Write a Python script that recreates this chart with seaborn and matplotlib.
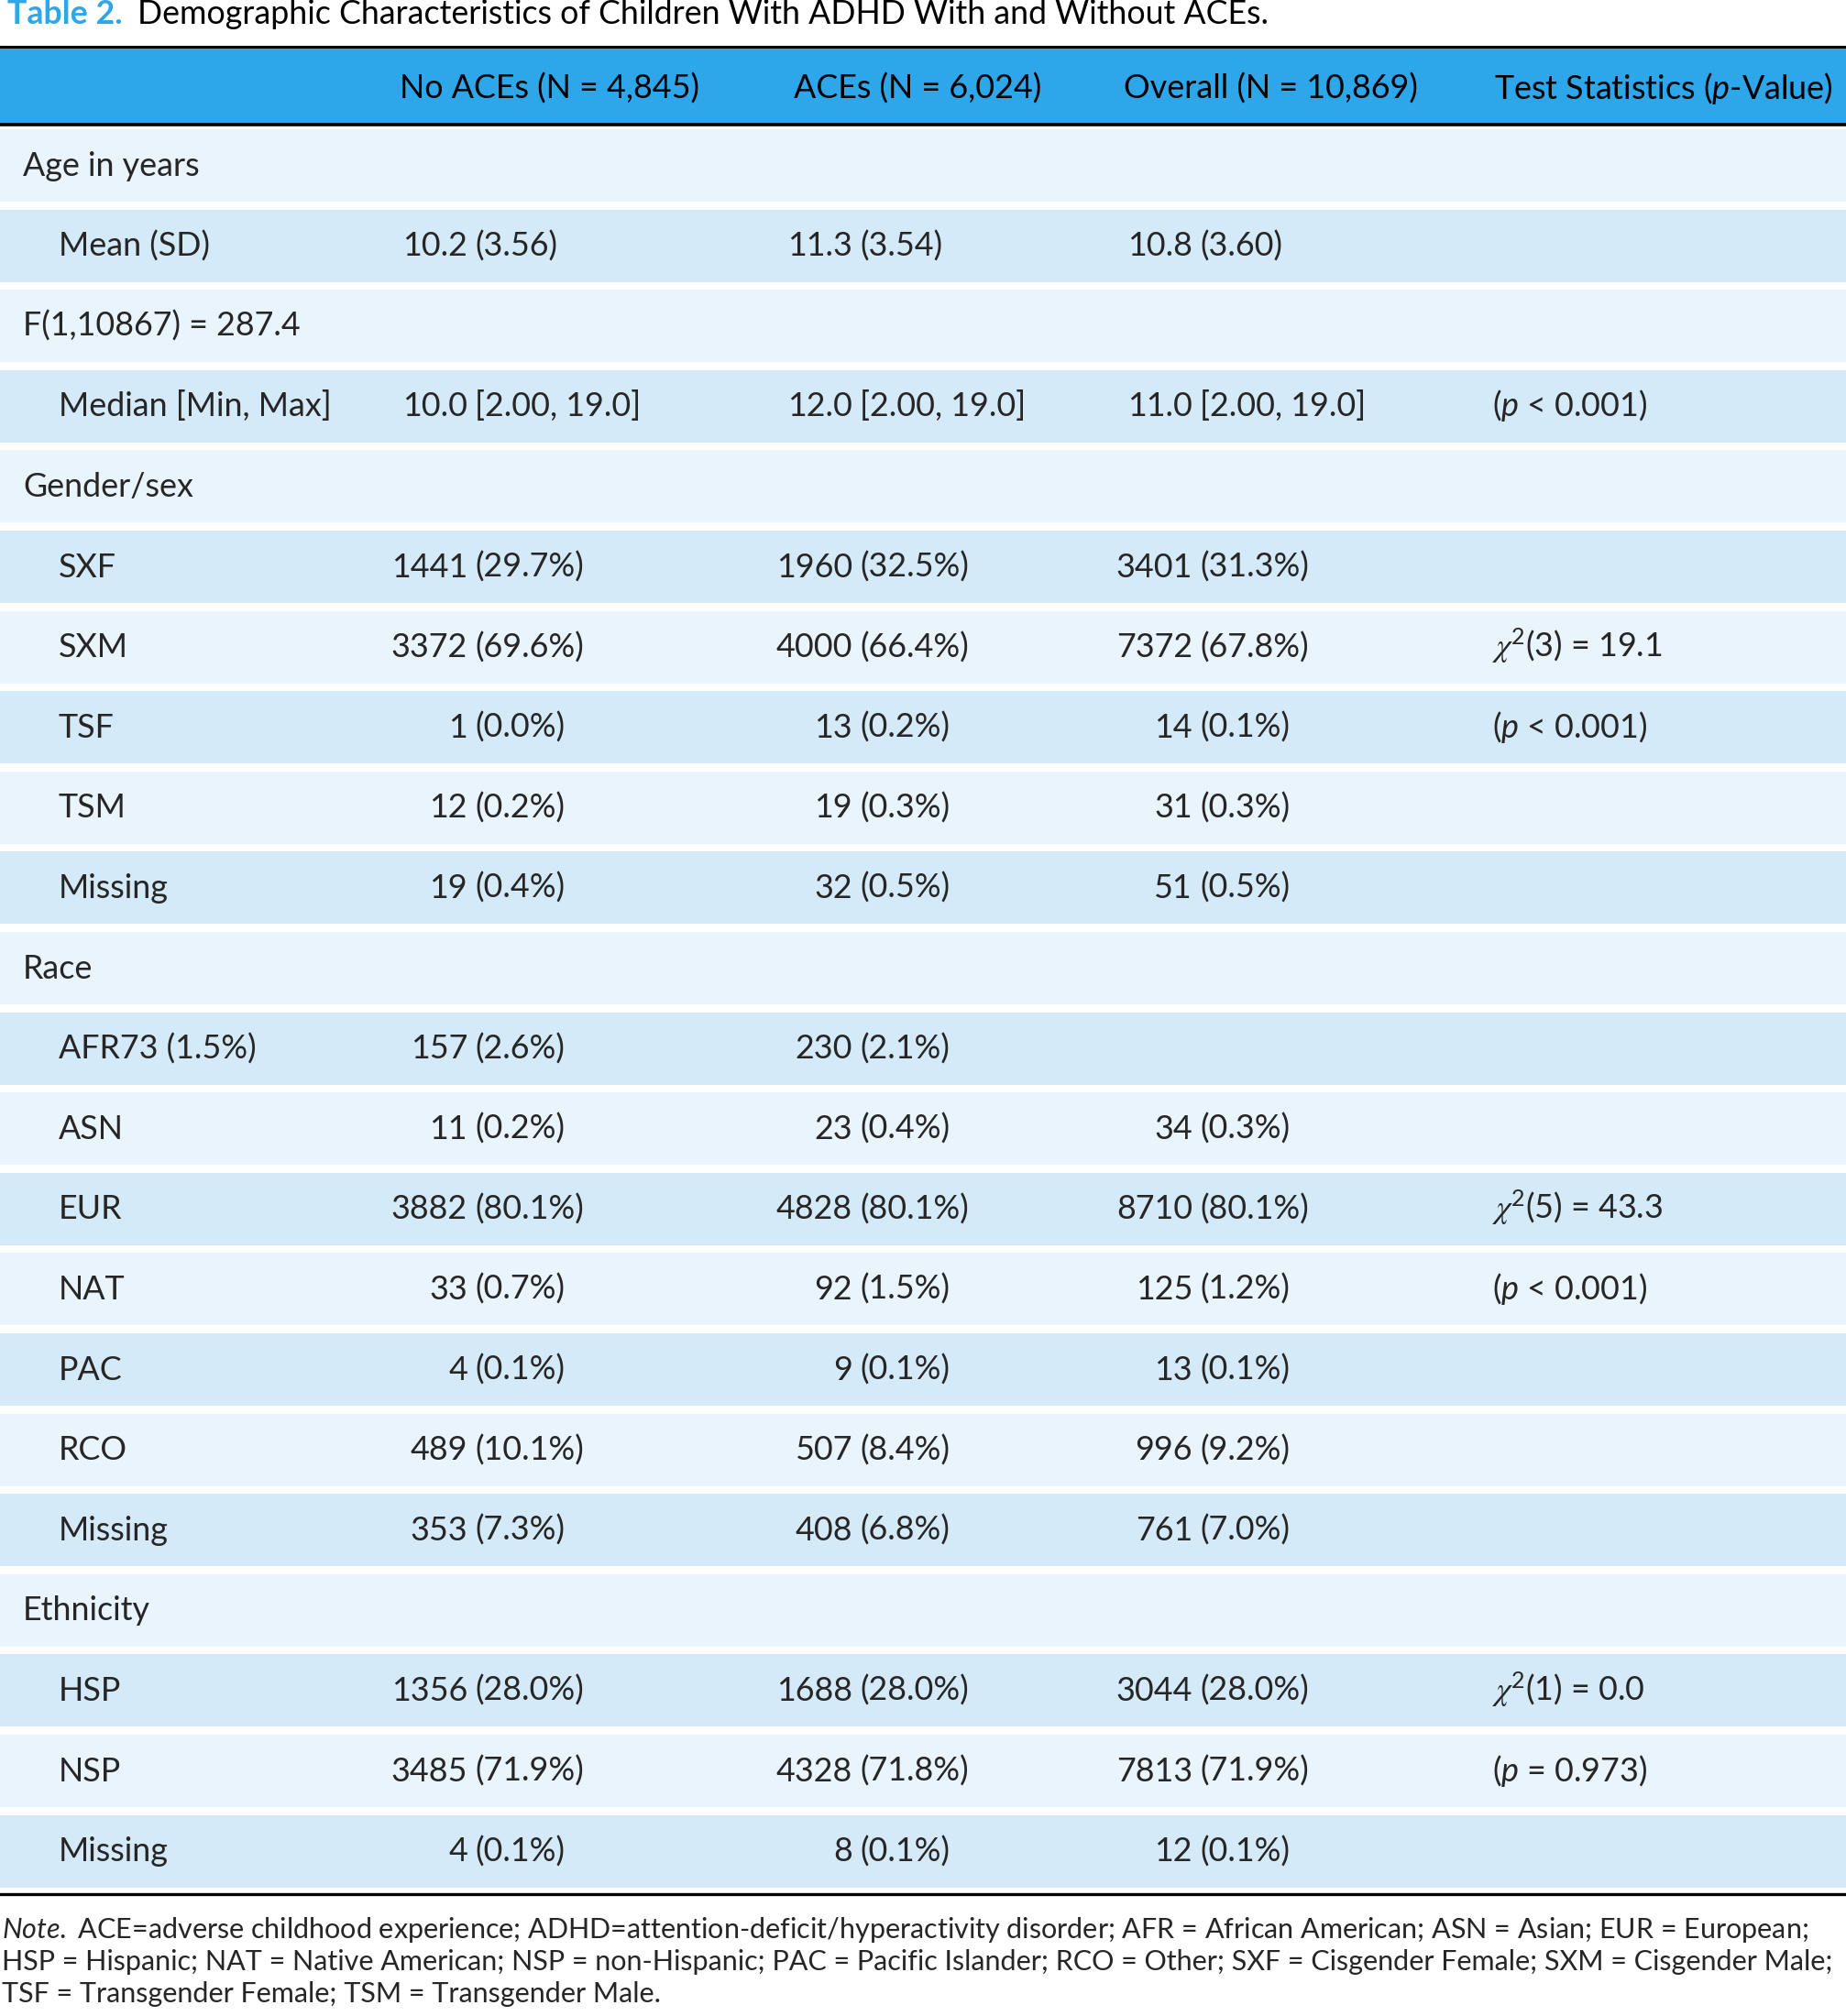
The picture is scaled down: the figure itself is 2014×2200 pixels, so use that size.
import matplotlib
matplotlib.use('Agg')
import matplotlib.pyplot as plt
import seaborn as sns

sns.set_theme(style='white')
plt.rcParams['font.family'] = ['Lato', 'DejaVu Sans']
plt.rcParams['mathtext.fontset'] = 'custom'
plt.rcParams['mathtext.rm'] = 'Lato'
plt.rcParams['mathtext.it'] = 'Lato:italic'
plt.rcParams['mathtext.bf'] = 'STIXGeneral:italic'  # used only for the chi sign
plt.rcParams['mathtext.fallback'] = 'stix'

# table data
title_tag = "Table 2."
title_text = "Demographic Characteristics of Children With ADHD With and Without ACEs."

headers = ["No ACEs (N = 4,845)", "ACEs (N = 6,024)", "Overall (N = 10,869)",
           "Test Statistics ($p$-Value)"]

row_labels = ["Age in years", "Mean (SD)", "F(1,10867) = 287.4", "Median [Min, Max]",
              "Gender/sex", "SXF", "SXM", "TSF", "TSM", "Missing",
              "Race", "AFR73 (1.5%)", "ASN", "EUR", "NAT", "PAC", "RCO", "Missing",
              "Ethnicity", "HSP", "NSP", "Missing"]
group_rows = ["Age in years", "F(1,10867) = 287.4", "Gender/sex", "Race", "Ethnicity"]

no_aces = ["", "10.2 (3.56)", "", "10.0 [2.00, 19.0]",
           "", "1441 (29.7%)", "3372 (69.6%)", "1 (0.0%)", "12 (0.2%)", "19 (0.4%)",
           "", "157 (2.6%)", "11 (0.2%)", "3882 (80.1%)", "33 (0.7%)", "4 (0.1%)",
           "489 (10.1%)", "353 (7.3%)",
           "", "1356 (28.0%)", "3485 (71.9%)", "4 (0.1%)"]
aces = ["", "11.3 (3.54)", "", "12.0 [2.00, 19.0]",
        "", "1960 (32.5%)", "4000 (66.4%)", "13 (0.2%)", "19 (0.3%)", "32 (0.5%)",
        "", "230 (2.1%)", "23 (0.4%)", "4828 (80.1%)", "92 (1.5%)", "9 (0.1%)",
        "507 (8.4%)", "408 (6.8%)",
        "", "1688 (28.0%)", "4328 (71.8%)", "8 (0.1%)"]
overall = ["", "10.8 (3.60)", "", "11.0 [2.00, 19.0]",
           "", "3401 (31.3%)", "7372 (67.8%)", "14 (0.1%)", "31 (0.3%)", "51 (0.5%)",
           "", "", "34 (0.3%)", "8710 (80.1%)", "125 (1.2%)", "13 (0.1%)",
           "996 (9.2%)", "761 (7.0%)",
           "", "3044 (28.0%)", "7813 (71.9%)", "12 (0.1%)"]
chi = r"$\mathbf{\chi}^{\mathrm{2}}$"
tests = ["", "", "", "($p$ < 0.001)",
         "", "", chi + "(3) = 19.1", "($p$ < 0.001)", "", "",
         "", "", "", chi + "(5) = 43.3", "($p$ < 0.001)", "", "", "",
         "", chi + "(1) = 0.0", "($p$ = 0.973)", ""]

note_lines = [
    r"$\mathit{Note.}$ ACE=adverse childhood experience; ADHD=attention-deficit/hyperactivity disorder; AFR = African American; ASN = Asian; EUR = European;",
    "HSP = Hispanic; NAT = Native American; NSP = non-Hispanic; PAC = Pacific Islander; RCO = Other; SXF = Cisgender Female; SXM = Cisgender Male;",
    "TSF = Transgender Female; TSM = Transgender Male.",
]

# layout (pixels)
W, H = 2014, 2200
blue = '#2EA7EA'
light = '#E9F4FD'
dark = '#D5EAF8'
row_top0, row_pitch, row_h = 141, 87.6, 79
anchors = [518, 938, 1309]
test_x = 1628
header_x = [436, 866, 1226, 1630]

fig = plt.figure(figsize=(W / 100, H / 100), dpi=100)
ax = fig.add_axes([0, 0, 1, 1])
ax.set_xlim(0, W)
ax.set_ylim(H, 0)
ax.axis('off')
renderer = fig.canvas.get_renderer()


def width_of(t):
    return t.get_window_extent(renderer).width


# body font size fitted to the header width
probe = ax.text(0, 0, headers[0], fontsize=22)
body_fs = 22 * 326 / width_of(probe)
probe.remove()

# header band
ax.axhspan(51, 136, color=blue, lw=0)
ax.axhline(51, color='black', lw=2.2)
ax.axhline(136, color='black', lw=2.6)
for x, h in zip(header_x, headers):
    ax.text(x, 108, h, fontsize=body_fs, ha='left', va='baseline', color='black')

# row bands
n = len(row_labels)
centers = [row_top0 + row_pitch * i + row_h / 2 for i in range(n)]
colors = [light if i % 2 == 0 else dark for i in range(n)]
ax.barh(centers, [W] * n, height=row_h, left=0, color=colors, lw=0)

for i, lab in enumerate(row_labels):
    yb = centers[i] + 11
    x0 = 25 if lab in group_rows else 64
    ax.text(x0, yb, lab, fontsize=body_fs, ha='left', va='baseline')
    for anc, col in zip(anchors, [no_aces, aces, overall]):
        v = col[i]
        if not v:
            continue
        left, right = v.split(' ', 1)
        ax.text(anc - 8, yb, left, fontsize=body_fs, ha='right', va='baseline')
        ax.text(anc, yb, right, fontsize=body_fs, ha='left', va='baseline')
    if tests[i]:
        ax.text(test_x, yb, tests[i], fontsize=body_fs, ha='left', va='baseline')

ax.axhline(2067, color='black', lw=2.4)

# title
t1 = ax.text(8, 26, title_tag, fontsize=21, fontweight='bold', color=blue, va='baseline')
t2 = ax.text(0, 26, title_text, fontsize=21, color='black', va='baseline')
scale = 1383 / (width_of(t1) + width_of(t2) + 16)
t1.set_fontsize(21 * scale)
t2.set_fontsize(21 * scale)
t2.set_x(8 + width_of(t1) + 16)

# note
probe = ax.text(0, 0, note_lines[1], fontsize=20)
note_fs = 20 * 2004 / width_of(probe)
probe.remove()
for yb, line in zip([2115, 2150, 2185], note_lines):
    ax.text(2, yb, line, fontsize=note_fs, ha='left', va='baseline')

fig.savefig('out.png', dpi=100)
